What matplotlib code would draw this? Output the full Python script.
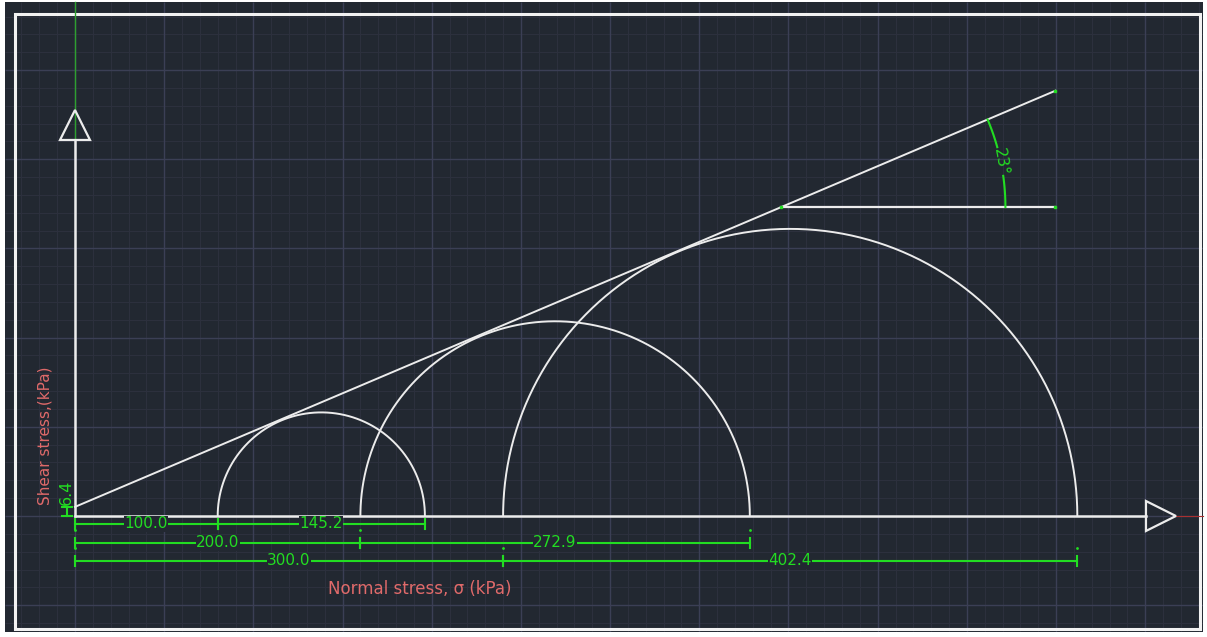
import numpy as np
import matplotlib.pyplot as plt
from matplotlib.patches import Rectangle, Polygon

# Triaxial test results (kPa)
sigma3 = [100.0, 200.0, 300.0]
deviator = [145.2, 272.9, 402.4]
cohesion = 6.4
phi_deg = 23.0
envelope_end = 687.0      # sigma where the envelope line stops
angle_ref_sigma = 495.0   # sigma where the horizontal reference line starts
angle_arc_r = 157.0

# drawing colours (AutoCAD dark model space look)
BG = '#222831'
GRID_MAJOR = '#3b3f55'
GRID_MINOR = '#2c303d'
WHITE = '#ececec'
GREEN = '#22dd22'
RED = '#e06a6a'

# pixel <-> kPa mapping (origin at pixel 75,516 in a 1207x637 picture)
S = 1.427
W, H = 1207, 637
OX, OY = 75, 516


def P(xp, yp):
    return (xp - OX) / S, (OY - yp) / S


fig = plt.figure(figsize=(W / 100, H / 100), dpi=100, facecolor='white')
ax = fig.add_axes([0, 0, 1, 1])
ax.set_xlim(-OX / S, (W - OX) / S)
ax.set_ylim(-(H - OY) / S, OY / S)
ax.axis('off')

# dark drawing area
x0, y0 = P(5, 632)
x1, y1 = P(1203, 2)
bg = Rectangle((x0, y0), x1 - x0, y1 - y0, facecolor=BG, edgecolor='none', zorder=0)
ax.add_patch(bg)

# grid: 12.5 kPa minor, 62.5 kPa major
gx = np.arange(np.ceil(x0 / 12.5) * 12.5, x1, 12.5)
gy = np.arange(np.ceil(y0 / 12.5) * 12.5, y1, 12.5)
for v in gx:
    major = abs(v / 62.5 - round(v / 62.5)) < 1e-6
    ln = ax.vlines(v, y0, y1, color=GRID_MAJOR if major else GRID_MINOR,
                   lw=1.0 if major else 0.8, zorder=1 if major else 0.5)
    ln.set_clip_path(bg)
for v in gy:
    major = abs(v / 62.5 - round(v / 62.5)) < 1e-6
    ln = ax.hlines(v, x0, x1, color=GRID_MAJOR if major else GRID_MINOR,
                   lw=1.0 if major else 0.8, zorder=1 if major else 0.5)
    ln.set_clip_path(bg)

# white frame
fx0, fy0 = P(15, 629)
fx1, fy1 = P(1200, 14)
ax.add_patch(Rectangle((fx0, fy0), fx1 - fx0, fy1 - fy0, fill=False,
                       edgecolor='#f2f2f2', lw=2.2, zorder=2))

# axes with hollow arrow heads
ax_len, ay_len = 750.5, 263.5
hw, hl = 10.5, 21.0
ax.plot([0, ax_len], [0, 0], color=WHITE, lw=1.8, zorder=4)
ax.add_patch(Polygon([[ax_len, -hw], [ax_len + hl, 0], [ax_len, hw]], closed=True,
                     fill=False, edgecolor=WHITE, lw=1.6, zorder=4))
ax.plot([ax_len + hl, x1], [0, 0], color='#a83030', lw=0.8, zorder=3)
ax.plot([0, 0], [0, ay_len], color=WHITE, lw=1.8, zorder=4)
ax.add_patch(Polygon([[-hw, ay_len], [0, ay_len + hl], [hw, ay_len]], closed=True,
                     fill=False, edgecolor=WHITE, lw=1.6, zorder=4))
ax.plot([0, 0], [ay_len, y1], color='#2ea02e', lw=1.0, zorder=3)

# Mohr circles (upper halves)
th = np.linspace(0, np.pi, 300)
for s3, d in zip(sigma3, deviator):
    c, r = s3 + d / 2, d / 2
    ax.plot(c + r * np.cos(th), r * np.sin(th), color=WHITE, lw=1.4, zorder=4)

# failure envelope
tphi = np.tan(np.radians(phi_deg))
env_s = np.array([0, envelope_end])
ax.plot(env_s, cohesion + env_s * tphi, color=WHITE, lw=1.4, zorder=4)

# horizontal reference + angle dimension
ref_t = cohesion + angle_ref_sigma * tphi
ax.plot([angle_ref_sigma, envelope_end], [ref_t, ref_t], color=WHITE, lw=1.6, zorder=4)
ax.plot([angle_ref_sigma, envelope_end, envelope_end],
        [ref_t, ref_t, cohesion + envelope_end * tphi],
        ls='none', marker='s', ms=1.8, color=GREEN, zorder=5)
for a0, a1 in [(0, 8.0), (15.5, phi_deg)]:
    aa = np.radians(np.linspace(a0, a1, 50))
    ax.plot(angle_ref_sigma + angle_arc_r * np.cos(aa), ref_t + angle_arc_r * np.sin(aa),
            color=GREEN, lw=1.5, zorder=5)
am = np.radians(phi_deg / 2)
ax.text(angle_ref_sigma + angle_arc_r * np.cos(am), ref_t + angle_arc_r * np.sin(am),
        f'{phi_deg:.0f}°', color=GREEN, fontsize=11.5, rotation=-80,
        ha='center', va='center', zorder=6)

# dimension rows below the sigma axis
rows = [-5.6, -18.9, -31.5]
tick = 3.2


def dim(a, b, y, label):
    ax.plot([a, b], [y, y], color=GREEN, lw=1.5, zorder=5)
    for v in (a, b):
        ax.plot([v, v], [y - tick, y + tick], color=GREEN, lw=1.5, zorder=5)
    ax.text((a + b) / 2, y, label, color=GREEN, fontsize=11, ha='center', va='center',
            bbox=dict(facecolor=BG, edgecolor='none', pad=0.3), zorder=6)


for i, (s3, d) in enumerate(zip(sigma3, deviator)):
    y = rows[i]
    dim(0, s3, y, f'{s3:.1f}')
    dim(s3, s3 + d, y, f'{d:.1f}')
    if i > 0:
        ax.plot([0, s3, s3 + d], [y + 9.0] * 3, ls='none', marker='.', ms=2,
                color=GREEN, zorder=5)

# cohesion dimension on the tau axis
cx = -5.6
ax.plot([cx, cx], [0, cohesion], color=GREEN, lw=1.5, zorder=5)
for v in (0, cohesion):
    ax.plot([cx - 3.8, cx + 3.8], [v, v], color=GREEN, lw=1.5, zorder=5)
ax.text(-6.3, 16.3, f'{cohesion}', color=GREEN, fontsize=11.5, rotation=90,
        ha='center', va='center', zorder=6)

# axis titles
ax.text(*P(45, 436), 'Shear stress,(kPa)', color=RED, fontsize=11, rotation=90,
        ha='center', va='center', zorder=6)
ax.text(*P(420, 589), 'Normal stress, σ (kPa)', color=RED, fontsize=12,
        ha='center', va='center', zorder=6)

plt.savefig('out.png', dpi=100, facecolor='white')
